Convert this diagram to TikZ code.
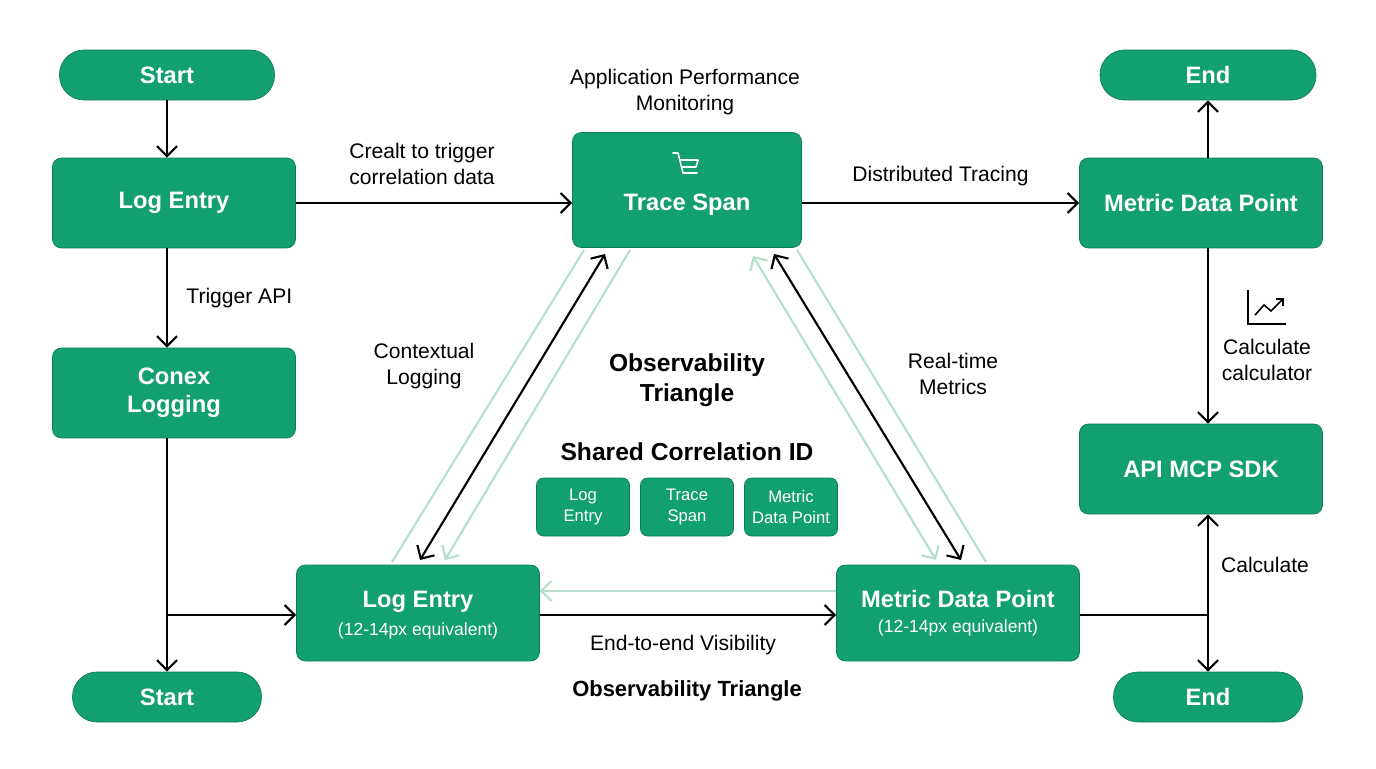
\documentclass[tikz,border=0pt]{standalone}
\usepackage{fontspec}
\setmainfont{Liberation Sans}
\usetikzlibrary{arrows.meta}
\usetikzlibrary{positioning}

\definecolor{boxgreen}{HTML}{12A06F}
\definecolor{edgegreen}{HTML}{0B7D55}
\definecolor{palegreen}{HTML}{B3DFCB}

\tikzset{
  box/.style={rectangle,rounded corners=5pt,draw=edgegreen,fill=boxgreen,text=white,
              font=\fontsize{13.5}{16}\selectfont\bfseries,align=center,
              minimum width=4.86cm,minimum height=1.8cm},
  pill/.style={rectangle,draw=edgegreen,fill=boxgreen,text=white,
               font=\fontsize{13.5}{16}\selectfont\bfseries,
               minimum height=1cm,rounded corners=0.49cm},
  chip/.style={rectangle,rounded corners=4pt,draw=edgegreen,fill=boxgreen,text=white,
               font=\fontsize{9.5}{12}\selectfont,align=center,
               minimum width=1.86cm,minimum height=1.16cm},
  lbl/.style={font=\fontsize{12}{15}\selectfont,align=center},
  head/.style={font=\fontsize{14}{17}\selectfont\bfseries,align=center},
  flow/.style={line width=1.2pt,-{Straight Barb[length=2mm,width=4mm]}},
  both/.style={line width=1.2pt,{Straight Barb[length=2mm,width=4mm]}-{Straight Barb[length=2mm,width=4mm]}},
  pale/.style={line width=1.2pt,draw=palegreen},
  palehead/.style={pale,-{Straight Barb[length=2mm,width=4mm]}},
}

\begin{document}
\begin{tikzpicture}[x=0.02cm,y=-0.02cm]

  \useasboundingbox (0,0) rectangle (1376,768);

  % boxes
  \path (167,75)  node (start1) [pill,minimum width=4.3cm] {Start}
        (174,203) node (log1) [box] {Log Entry}
        (174,393) node (conex) [box] {Conex\\Logging}
        (167,697) node (start2) [pill,minimum width=3.78cm] {Start}
        (687,190) node (trace) [box,minimum width=4.58cm,minimum height=2.3cm] {}
        (1208,75) node (end1) [pill,minimum width=4.32cm] {End}
        (1201,203) node (metric1) [box] {Metric Data Point}
        (1201,469) node (api) [box] {API MCP SDK}
        (1208,697) node (end2) [pill,minimum width=3.78cm] {End}
        (418,613) node (log2) [box,minimum height=1.92cm] {}
        (958,613) node (metric2) [box,minimum height=1.92cm] {};

  \node [text=white,font=\fontsize{13.5}{16}\selectfont\bfseries] at (687,205) {Trace Span};
  \node [text=white,font=\fontsize{13.5}{16}\selectfont\bfseries] at (418,602) {Log Entry};
  \node [text=white,font=\fontsize{10}{12}\selectfont] at (418,631) {(12-14px equivalent)};
  \node [text=white,font=\fontsize{13.5}{16}\selectfont\bfseries] at (958,599) {Metric Data Point};
  \node [text=white,font=\fontsize{10}{12}\selectfont] at (958,628) {(12-14px equivalent)};

  % trace icon
  \draw [white,line width=0.9pt,line cap=round,line join=round]
        (673,153) -- (678,153) -- (683,173) -- (697,173) (680,160) -- (698,160) -- (696,167) -- (682,167);

  % chips
  \path (583,507) node (chip1) [chip] {Log\\Entry}
        (687,507) node (chip2) [chip] {Trace\\Span}
        (791,507) node (chip3) [chip] {Metric\\Data Point};

  % texts
  \node [lbl] at (685,92) {Application Performance\\Monitoring};
  \node [head] at (687,380) {Observability\\Triangle};
  \node [head] at (687,452) {Shared Correlation ID};
  \node [lbl] at (683,645) {End-to-end Visibility};
  \node [head,font=\fontsize{12.5}{15}\selectfont\bfseries] at (687,691) {Observability Triangle};

  % flow
  \draw [flow] (start1) -- (log1.north -| start1);
  \draw [flow] (log1.south -| start1) -- node [lbl,right=0.25cm] {Trigger API} (conex.north -| start1);
  \coordinate (split) at (167,615);
  \draw [flow] (conex.south -| start1) -- (start2);
  \draw [flow] (split) -- (log2.west |- split);
  \draw [flow] (log1.east) -- (trace.west |- log1.east);
  \node [lbl] at (422,164) {Crealt to trigger\\correlation data};
  \draw [flow] (trace.east |- metric1.west) -- node [lbl,above=0.2cm] {Distributed Tracing} (metric1.west);
  \draw [flow] (metric1.north -| end1) -- (end1);
  \draw [flow] (metric1.south -| end1) -- (api.north -| end1);
  \node [lbl] at (1267,360) {Calculate\\calculator};
  \draw [both] (api.south -| end1) -- (end2);
  \coordinate (join) at (1208,615);
  \draw [line width=1.2pt] (metric2.east |- join) -- (join);
  \node [lbl] at (1265,565) {Calculate};

  % chart icon
  \draw [black,line width=0.9pt] (1248,290) -- (1248,324) -- (1286,324);
  \draw [black,line width=0.9pt,-{Straight Barb[length=1mm,width=2mm]}] (1255,315) -- (1264,305) -- (1271,311) -- (1284,298);

  % triangle
  \draw [pale] (392,562) -- (584,250);
  \draw [palehead] (630,250) -- (445,560);
  \draw [both] (605,254) -- (420,560);
  \draw [pale] (797,250) -- (986,562);
  \draw [pale,{Straight Barb[length=2mm,width=4mm]}-{Straight Barb[length=2mm,width=4mm]}] (753,256) -- (936,560);
  \draw [both] (774,254) -- (961,560);
  \draw [palehead] (metric2.west |- 0,591) -- (log2.east |- 0,591);
  \draw [flow] (log2.east |- split) -- (metric2.west |- split);
  \node [lbl] at (424,366) {Contextual\\Logging};
  \node [lbl] at (953,374) {Real-time\\Metrics};

\end{tikzpicture}
\end{document}
